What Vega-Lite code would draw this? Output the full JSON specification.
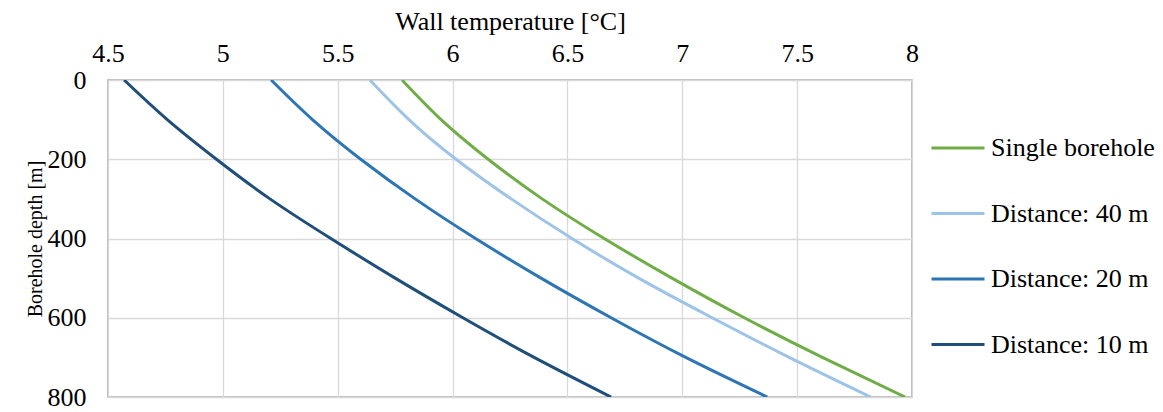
{
  "$schema": "https://vega.github.io/schema/vega-lite/v6.json",
  "width": 804,
  "height": 317,
  "autosize": {"type": "none"},
  "padding": {"left": 108, "top": 80, "right": 251, "bottom": 15},
  "background": "white",
  "config": {
    "font": "Liberation Serif",
    "view": {"stroke": "#A6A6A6", "strokeWidth": 1.5},
    "axis": {
      "labelFont": "Liberation Serif",
      "titleFont": "Liberation Serif",
      "labelFontSize": 26,
      "titleFontSize": 26,
      "labelColor": "black",
      "titleColor": "black",
      "titleFontWeight": "normal",
      "domain": false,
      "ticks": false,
      "tickSize": 0,
      "gridColor": "#D9D9D9",
      "gridWidth": 1.3
    },
    "legend": {
      "labelFont": "Liberation Serif",
      "labelFontSize": 26,
      "labelColor": "black",
      "labelLimit": 0,
      "padding": 0
    }
  },
  "data": {
    "values": [
      {"series": "Distance: 10 m", "depth": 0, "temp": 4.57},
      {"series": "Distance: 10 m", "depth": 100, "temp": 4.758},
      {"series": "Distance: 10 m", "depth": 200, "temp": 4.972},
      {"series": "Distance: 10 m", "depth": 300, "temp": 5.205},
      {"series": "Distance: 10 m", "depth": 400, "temp": 5.47},
      {"series": "Distance: 10 m", "depth": 500, "temp": 5.75},
      {"series": "Distance: 10 m", "depth": 600, "temp": 6.045},
      {"series": "Distance: 10 m", "depth": 700, "temp": 6.355},
      {"series": "Distance: 10 m", "depth": 800, "temp": 6.69},
      {"series": "Distance: 20 m", "depth": 0, "temp": 5.21},
      {"series": "Distance: 20 m", "depth": 100, "temp": 5.39},
      {"series": "Distance: 20 m", "depth": 200, "temp": 5.6},
      {"series": "Distance: 20 m", "depth": 300, "temp": 5.837},
      {"series": "Distance: 20 m", "depth": 400, "temp": 6.1},
      {"series": "Distance: 20 m", "depth": 500, "temp": 6.385},
      {"series": "Distance: 20 m", "depth": 600, "temp": 6.69},
      {"series": "Distance: 20 m", "depth": 700, "temp": 7.015},
      {"series": "Distance: 20 m", "depth": 800, "temp": 7.37},
      {"series": "Distance: 40 m", "depth": 0, "temp": 5.64},
      {"series": "Distance: 40 m", "depth": 100, "temp": 5.81},
      {"series": "Distance: 40 m", "depth": 200, "temp": 6.015},
      {"series": "Distance: 40 m", "depth": 300, "temp": 6.255},
      {"series": "Distance: 40 m", "depth": 400, "temp": 6.52},
      {"series": "Distance: 40 m", "depth": 500, "temp": 6.81},
      {"series": "Distance: 40 m", "depth": 600, "temp": 7.13},
      {"series": "Distance: 40 m", "depth": 700, "temp": 7.465},
      {"series": "Distance: 40 m", "depth": 800, "temp": 7.82},
      {"series": "Single borehole", "depth": 0, "temp": 5.78},
      {"series": "Single borehole", "depth": 100, "temp": 5.95},
      {"series": "Single borehole", "depth": 200, "temp": 6.155},
      {"series": "Single borehole", "depth": 300, "temp": 6.39},
      {"series": "Single borehole", "depth": 400, "temp": 6.66},
      {"series": "Single borehole", "depth": 500, "temp": 6.955},
      {"series": "Single borehole", "depth": 600, "temp": 7.27},
      {"series": "Single borehole", "depth": 700, "temp": 7.61},
      {"series": "Single borehole", "depth": 800, "temp": 7.97}
    ]
  },
  "mark": {"type": "line", "strokeWidth": 3, "interpolate": "natural", "clip": true},
  "encoding": {
    "x": {
      "field": "temp",
      "type": "quantitative",
      "scale": {"domain": [4.5, 8], "nice": false, "zero": false},
      "axis": {
        "orient": "top",
        "title": "Wall temperature [°C]",
        "values": [4.5, 5, 5.5, 6, 6.5, 7, 7.5, 8],
        "format": "~g",
        "labelFont": "Liberation Serif",
        "labelPadding": 14,
        "titlePadding": 6,
        "labelFlush": false
      }
    },
    "y": {
      "field": "depth",
      "type": "quantitative",
      "scale": {"domain": [0, 800], "reverse": true, "nice": false},
      "axis": {
        "title": "Borehole depth [m]",
        "titleFontSize": 20,
        "values": [0, 200, 400, 600, 800],
        "labelFont": "Liberation Serif",
        "labelPadding": 22,
        "titlePadding": 2
      }
    },
    "order": {"field": "depth"},
    "color": {
      "field": "series",
      "type": "nominal",
      "scale": {
        "domain": ["Single borehole", "Distance: 40 m", "Distance: 20 m", "Distance: 10 m"],
        "range": ["#70AD47", "#9DC3E6", "#2E75B6", "#1F4E79"]
      },
      "legend": {
        "title": null,
        "orient": "none",
        "legendX": 822,
        "legendY": 40,
        "symbolType": "stroke",
        "symbolSize": 2809,
        "symbolStrokeWidth": 3,
        "labelOffset": 5,
        "rowPadding": 24.5
      }
    }
  }
}
